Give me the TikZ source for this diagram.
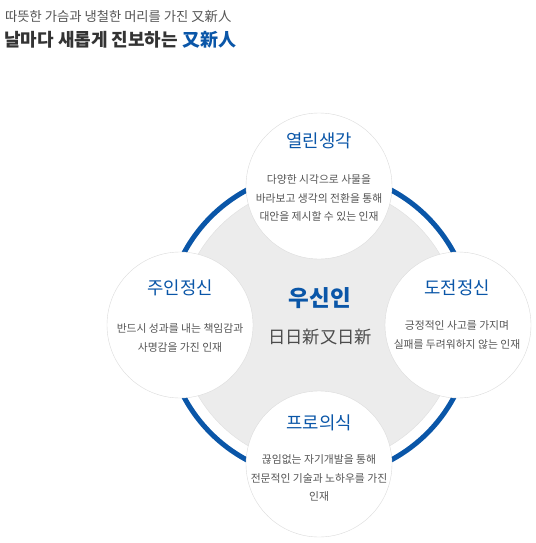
\documentclass[tikz,border=0pt]{standalone}
\usepackage{fontspec}
\setmainfont{Noto Sans CJK KR}
\usetikzlibrary{positioning}
\definecolor{wsblue}{HTML}{0A56A8}
\definecolor{wsgray}{HTML}{555555}
\definecolor{wsdark}{HTML}{333333}
\definecolor{wsdisk}{HTML}{ECECEC}

\begin{document}
\begin{tikzpicture}[x=1pt, y=-1pt,
  hub/.style={circle, draw=gray!25, fill=wsdisk, minimum size=280pt, inner sep=0pt},
  ring/.style={draw=wsblue, line width=5pt},
  petal/.style={circle, draw=gray!28, fill=white, minimum size=146pt, inner sep=0pt},
  ttl/.style={font=\fontsize{17.8}{19}\selectfont, text=wsblue, inner sep=0pt},
  desc/.style={font=\fontsize{10.8}{18.5}\selectfont, text=wsgray, align=center, inner sep=0pt}
]
  \fill[white] (0,0) rectangle (535,543);
  \useasboundingbox (0,0) rectangle (535,543);
  % header
  \node[anchor=west, inner sep=0pt, font=\fontsize{13.3}{15}\selectfont, text=wsgray] (sub) at (5,16)
    {따뜻한 가슴과 냉철한 머리를 가진 又新人};
  \node[anchor=west, inner sep=0pt, font=\bfseries\fontsize{18}{20}\selectfont, text=wsdark] (head) at (4,40)
    {날마다 새롭게 진보하는 \textcolor{wsblue}{又新人}};
  % core and ring
  \node[hub] (core) at (319,325) {};
  \draw[ring] (core.center) circle (153);
  \node[ttl, font=\bfseries\fontsize{22.5}{24}\selectfont] (name) at (320,298) {우신인};
  \node[inner sep=0pt, font=\fontsize{17.3}{18}\selectfont, text=wsgray!90!black] (motto) at (320,337) {日日新又日新};
  % petals
  \node[petal] (open)  at (319,186) {};
  \node[petal] (owner) at (180,325) {};
  \node[petal] (dare)  at (458,325) {};
  \node[petal] (pro)   at (319,464) {};
  \node[ttl] (openT)  at (319,141) {열린생각};
  \node[desc] (openD) at (319,198) {다양한 시각으로 사물을\\바라보고 생각의 전환을 통해\\대안을 제시할 수 있는 인재};
  \node[ttl] (ownerT) at (180,288) {주인정신};
  \node[desc] (ownerD) at (180,338) {반드시 성과를 내는 책임감과\\사명감을 가진 인재};
  \node[ttl] (dareT)  at (457,288) {도전정신};
  \node[desc] (dareD) at (457,335) {긍정적인 사고를 가지며\\실패를 두려워하지 않는 인재};
  \node[ttl] (proT)   at (319,423) {프로의식};
  \node[desc] (proD)  at (319,478) {끊임없는 자기개발을 통해\\전문적인 기술과 노하우를 가진\\인재};
\end{tikzpicture}
\end{document}
